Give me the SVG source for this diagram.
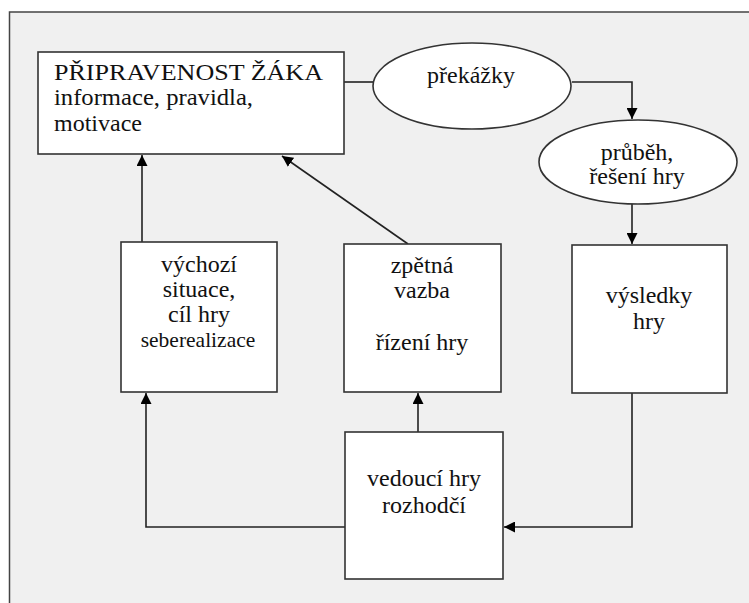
<svg xmlns="http://www.w3.org/2000/svg" width="749" height="603" viewBox="0 0 749 603">
<defs>
<marker id="ah" viewBox="0 0 10 10" refX="10" refY="5" markerWidth="11" markerHeight="11" markerUnits="userSpaceOnUse" orient="auto">
<path d="M0,0 L10,5 L0,10 z" fill="#000"/>
</marker>
<style>
.box{fill:#fff;stroke:#333;stroke-width:1.6}
.t{font-size:24px;fill:#111}
.c{text-anchor:middle}
.ln{fill:none;stroke:#222;stroke-width:1.6}
</style>
</defs>
<rect x="0" y="0" width="749" height="603" fill="#fff"/>
<path d="M9.5,603 V12 H749 V603 Z" fill="#f0f0f0"/>
<path d="M9.5,603 V12 H749" fill="none" stroke="#444" stroke-width="1.5"/>
<g id="connectors">
<path class="ln" d="M344,82 H373"/>
<path class="ln" d="M572,82 H632 V119" marker-end="url(#ah)"/>
<path class="ln" d="M632,204 V244" marker-end="url(#ah)"/>
<path class="ln" d="M142,242 V155" marker-end="url(#ah)"/>
<path class="ln" d="M408,244 L282,156" marker-end="url(#ah)"/>
<path class="ln" d="M418,432 V393" marker-end="url(#ah)"/>
<path class="ln" d="M632,393 V527 H504" marker-end="url(#ah)"/>
<path class="ln" d="M345,527 H146 V393" marker-end="url(#ah)"/>
</g>
<g font-family="Liberation Serif, Times New Roman, serif">
<g id="pripravenost">
<rect class="box" x="38" y="52" width="306" height="102"/>
<text class="t" x="54" y="80" textLength="269" lengthAdjust="spacingAndGlyphs">PŘIPRAVENOST ŽÁKA</text>
<text class="t" x="54" y="105" textLength="199" lengthAdjust="spacingAndGlyphs">informace, pravidla,</text>
<text class="t" x="54" y="131">motivace</text>
</g>
<g id="prekazky">
<ellipse class="box" cx="472" cy="86" rx="99" ry="43"/>
<text class="t c" x="471" y="83">překážky</text>
</g>
<g id="prubeh">
<ellipse class="box" cx="638" cy="162" rx="99" ry="42"/>
<text class="t c" x="637" y="160">průběh,</text>
<text class="t c" x="637" y="184">řešení hry</text>
</g>
<g id="vysledky">
<rect class="box" x="572" y="245" width="155" height="148"/>
<text class="t c" x="649" y="303">výsledky</text>
<text class="t c" x="649" y="329">hry</text>
</g>
<g id="vychozi">
<rect class="box" x="121" y="242" width="156" height="150"/>
<text class="t c" x="199" y="272">výchozí</text>
<text class="t c" x="199" y="297">situace,</text>
<text class="t c" x="199" y="322">cíl hry</text>
<text class="t c" x="198" y="347" style="font-size:21.5px">seberealizace</text>
</g>
<g id="zpetna">
<rect class="box" x="344" y="244" width="157" height="148"/>
<text class="t c" x="422" y="273">zpětná</text>
<text class="t c" x="422" y="298">vazba</text>
<text class="t c" x="422" y="350">řízení hry</text>
</g>
<g id="vedouci">
<rect class="box" x="345" y="432" width="158" height="147"/>
<text class="t c" x="424" y="486">vedoucí hry</text>
<text class="t c" x="424" y="513">rozhodčí</text>
</g>
</g>
</svg>
